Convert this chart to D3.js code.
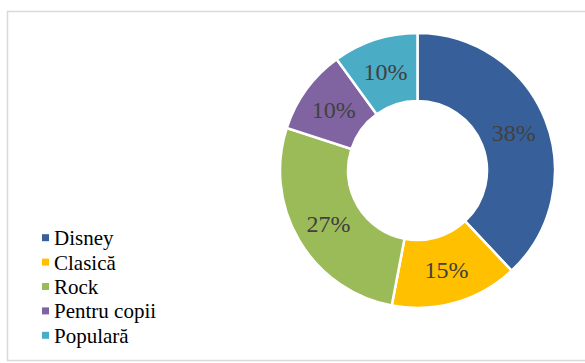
<!DOCTYPE html>
<html>
<head>
<meta charset="utf-8">
<script src="https://cdn.jsdelivr.net/npm/d3@7"></script>
<style>
  html, body { margin: 0; padding: 0; background: #fff; }
  svg { display: block; }
</style>
</head>
<body>
<svg id="chart" width="585" height="363"></svg>
<script>
// Music genre preferences (share of respondents, %)
const categories = ["Disney", "Clasică", "Rock", "Pentru copii", "Populară"];
const values = [38, 15, 27, 10, 10];
const colors = ["#37609a", "#ffc000", "#9bbb59", "#8064a2", "#4bacc6"];

const FONT = '"Liberation Serif", "Times New Roman", Tinos';
const svg = d3.select("#chart");
const W = 585;

function draw() {
  svg.selectAll("*").remove();

  // chart frame
  svg.append("rect")
    .attr("x", 7.5).attr("y", 11.5)
    .attr("width", W).attr("height", 349)
    .attr("fill", "#fff")
    .attr("stroke", "#d9d9d9").attr("stroke-width", 1.5);

  const cx = 417.5, cy = 170.5, outerR = 137.5, innerR = 69.5;

  const pie = d3.pie().value(d => d).sort(null);
  const arcs = pie(values);
  const arc = d3.arc().innerRadius(innerR).outerRadius(outerR);

  const g = svg.append("g").attr("transform", `translate(${cx},${cy})`);

  g.selectAll("path.slice")
    .data(arcs)
    .join("path")
    .attr("class", "slice")
    .attr("d", arc)
    .attr("fill", (d, i) => colors[i])
    .attr("stroke", "#fff")
    .attr("stroke-width", 2.5);

  g.selectAll("text.pct")
    .data(arcs)
    .join("text")
    .attr("class", "pct")
    .attr("x", d => arc.centroid(d)[0])
    .attr("y", d => arc.centroid(d)[1])
    .attr("text-anchor", "middle")
    .attr("dy", "0.35em")
    .style("font-family", FONT)
    .style("font-size", "24px")
    .attr("fill", "#404040")
    .text(d => d.data + "%");

  // legend
  const y = d3.scaleBand().domain(categories).range([226, 348]);
  const items = svg.append("g").selectAll("g")
    .data(categories)
    .join("g")
    .attr("transform", d => `translate(42,${y(d) + y.bandwidth() / 2})`);

  items.append("rect")
    .attr("x", 0).attr("y", -4)
    .attr("width", 7).attr("height", 7)
    .attr("fill", (d, i) => colors[i]);

  items.append("text")
    .attr("x", 12)
    .attr("dy", "0.33em")
    .style("font-family", FONT)
    .style("font-size", "21px")
    .attr("fill", "#000")
    .text(d => d);
}

draw();
// redraw once the serif face is ready so the glyphs use it
if (document.fonts && document.fonts.load) {
  document.fonts.load('21px "Liberation Serif"', "Disney 38%ă").then(draw, draw);
}
</script>
</body>
</html>
